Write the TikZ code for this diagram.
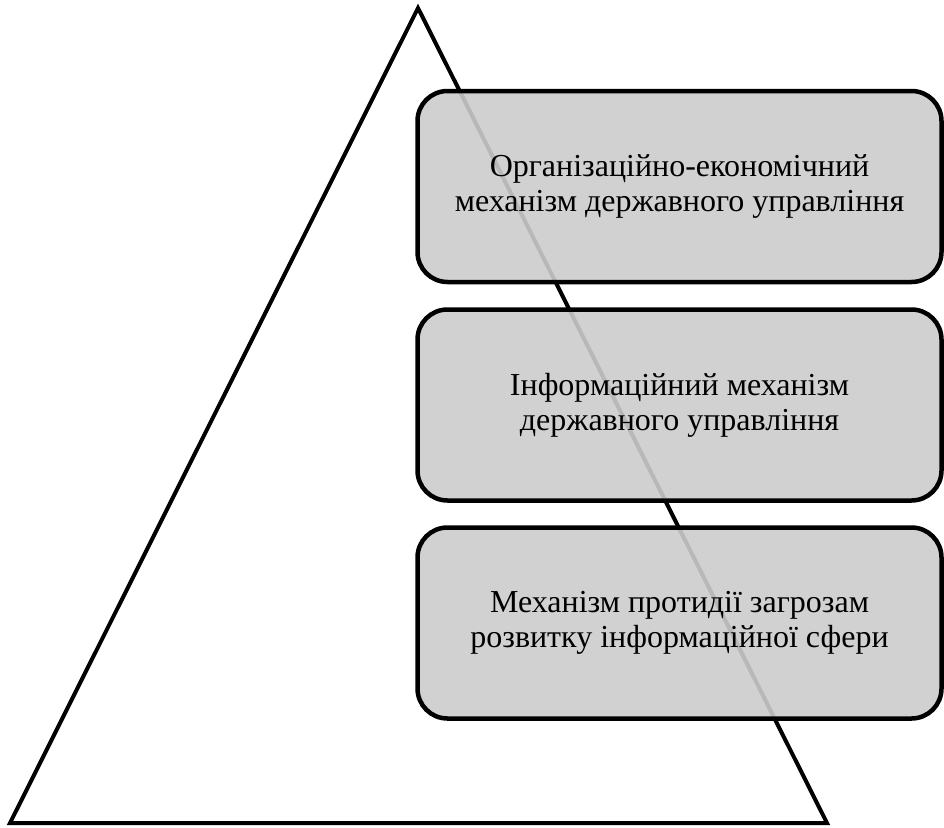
\documentclass[tikz,border=0pt]{standalone}
\usepackage{fontspec}
\setmainfont{Liberation Serif}
\begin{document}
\begin{tikzpicture}[x=1pt,y=-1pt,
  mechbox/.style={draw=black,line width=4.5pt,rounded corners=30pt,fill=black!20,fill opacity=0.9,text opacity=1,
    minimum width=524pt,minimum height=191pt,align=center,font=\fontsize{32}{35}\selectfont,inner sep=0pt},
  tri/.style={draw=black,line width=4pt,line join=miter}]
\useasboundingbox (0,0) rectangle (944,827);
\coordinate (apex) at (418,8);
\coordinate (bl) at (10,823);
\coordinate (br) at (827,823);
\draw[tri] (apex) -- (bl) -- (br) -- cycle;
\node[mechbox] (b1) at (679.5,186.5) {Організаційно-економічний\\механізм державного управління};
\node[mechbox] (b2) at (679.5,405) {Інформаційний механізм\\державного управління};
\node[mechbox] (b3) at (679.5,623) {Механізм протидії загрозам\\розвитку інформаційної сфери};
\end{tikzpicture}
\end{document}
